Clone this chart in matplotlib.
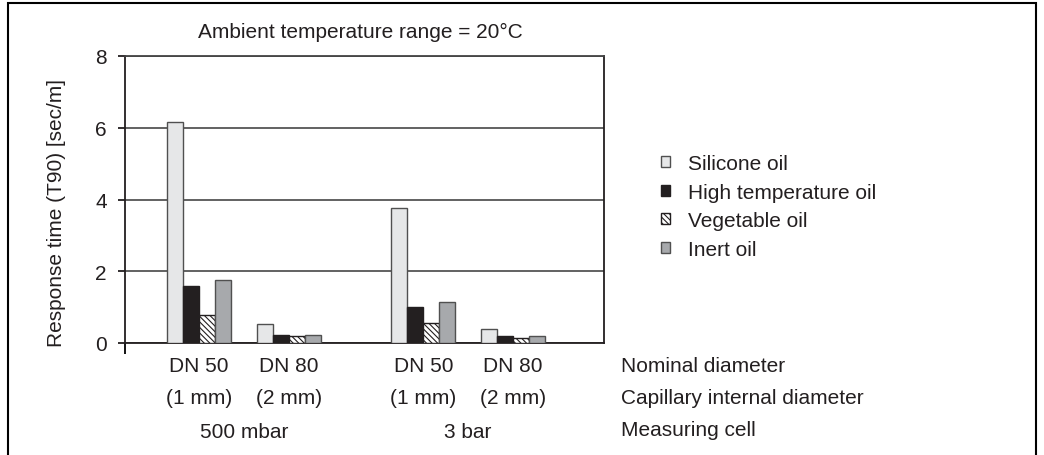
import matplotlib.pyplot as plt
import matplotlib.transforms as mtransforms
from matplotlib.patches import Rectangle

# data
oils = ['Silicone oil', 'High temperature oil', 'Vegetable oil', 'Inert oil']
nominal = ['DN 50', 'DN 80', 'DN 50', 'DN 80']
capillary = ['(1 mm)', '(2 mm)', '(1 mm)', '(2 mm)']
cells = ['500 mbar', '3 bar']
group_pos = [0, 1, 2.5, 3.5]
silicone = [6.15, 0.53, 3.75, 0.38]
high_temp = [1.58, 0.23, 0.99, 0.19]
vegetable = [0.79, 0.19, 0.55, 0.14]
inert = [1.77, 0.23, 1.13, 0.19]

txt = '#231f20'
plt.rcParams['font.family'] = ['Liberation Sans', 'DejaVu Sans']
plt.rcParams['font.size'] = 15
plt.rcParams['hatch.linewidth'] = 0.8

W, H = 1044, 456
fig = plt.figure(figsize=(W / 100, H / 100), dpi=100)
ax = fig.add_axes([125 / W, 1 - 344 / H, (604 - 125) / W, (344 - 57) / H])

w = 0.178
series = [
    (silicone, dict(color='#e6e7e8', edgecolor='#505050')),
    (high_temp, dict(color='#231f20', edgecolor='#231f20')),
    (vegetable, dict(color='white', edgecolor='#231f20', hatch='\\' * 6)),
    (inert, dict(color='#a7a9ac', edgecolor='#505050')),
]
handles = []
for i, (vals, style) in enumerate(series):
    xs = [p + (i - 1.5) * w for p in group_pos]
    b = ax.bar(xs, vals, width=w, linewidth=1.0, zorder=3, **style)
    handles.append(b)

ax.set_ylim(0, 8)
ax.set_xlim(-0.825, 4.515)
ax.set_yticks([0, 2, 4, 6, 8])
ax.yaxis.grid(True, color='#555555', linewidth=1.3)
ax.set_axisbelow(True)
ax.tick_params(axis='y', length=5, width=1.3, colors=txt, labelsize=15, pad=8)
ax.set_xticks([-0.825])
ax.set_xticklabels([''])
ax.tick_params(axis='x', length=8, width=1.3)
for s in ['left', 'bottom', 'right']:
    ax.spines[s].set_color(txt)
    ax.spines[s].set_linewidth(1.3)
ax.spines['top'].set_color('#444444')
ax.spines['top'].set_linewidth(1.3)

# category labels under the axis
tr = mtransforms.blended_transform_factory(ax.transData, fig.transFigure)
for p, a, b in zip(group_pos, nominal, capillary):
    ax.text(p, 1 - 367 / H, a, transform=tr, ha='center', va='center', color=txt)
    ax.text(p, 1 - 399 / H, b, transform=tr, ha='center', va='center', color=txt)
for k, c in enumerate(cells):
    mid = (group_pos[2 * k] + group_pos[2 * k + 1]) / 2
    ax.text(mid, 1 - 433 / H, c, transform=tr, ha='center', va='center', color=txt)

fig.text(621 / W, 1 - 367 / H, 'Nominal diameter', va='center', color=txt)
fig.text(621 / W, 1 - 398 / H, 'Capillary internal diameter', va='center', color=txt)
fig.text(621 / W, 1 - 431 / H, 'Measuring cell', va='center', color=txt)

fig.text(360 / W, 1 - 32 / H, 'Ambient temperature range = 20°C', ha='center', va='center', color=txt)
fig.text(57 / W, 1 - 213 / H, 'Response time (T90) [sec/m]', rotation=90,
         ha='center', va='center', color=txt)

leg = fig.legend(handles, oils, loc='upper left', bbox_to_anchor=(661 / W, 1 - 155 / H),
                 frameon=False, handlelength=0.45, handleheight=0.45, handletextpad=0.85,
                 labelspacing=0.46, borderpad=0, borderaxespad=0)
for t in leg.get_texts():
    t.set_color(txt)

fig.add_artist(Rectangle((8 / W, -0.05), (1036 - 8) / W, 1.05 - 4 / H, transform=fig.transFigure,
                         fill=False, edgecolor='black', linewidth=1.5))

fig.savefig('out.png', dpi=100)
